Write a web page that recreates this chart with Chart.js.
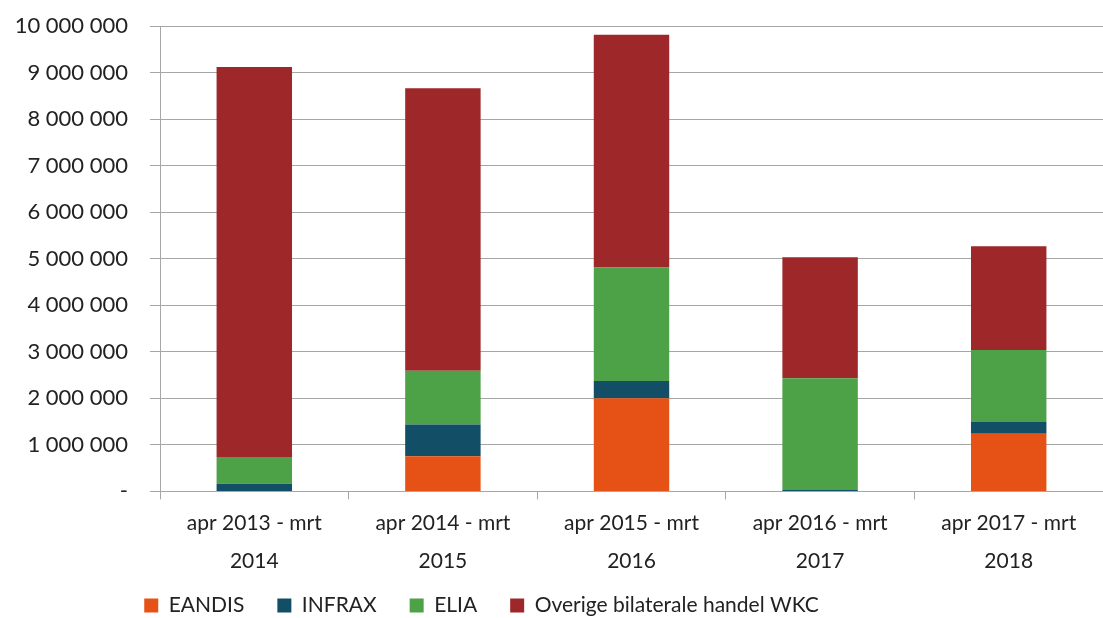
<!DOCTYPE html>
<html>
<head>
<meta charset="utf-8">
<script src="https://cdn.jsdelivr.net/npm/chart.js@4/dist/chart.umd.min.js"></script>
<style>
  html, body { margin: 0; padding: 0; background: #fff; }
  #wrap { width: 1103px; height: 618px; position: relative; }
</style>
</head>
<body>
<div id="wrap"><canvas id="chart"></canvas></div>
<script>
// periods (two-line labels)
const periods = [
    ['apr 2013 - mrt', '2014'],
    ['apr 2014 - mrt', '2015'],
    ['apr 2015 - mrt', '2016'],
    ['apr 2016 - mrt', '2017'],
    ['apr 2017 - mrt', '2018']
];

const eandis  = [0,       754000,  2000000, 0,       1240000];
const infrax  = [166000,  686000,  370000,  30000,   250000];
const elia    = [574000,  1150000, 2440000, 2400000, 1550000];
const overige = [8380000, 6070000, 5000000, 2600000, 2230000];

const seriesNames = ['EANDIS', 'INFRAX', 'ELIA', 'Overige bilaterale handel WKC'];
const seriesColors = ['#E65215', '#124F67', '#4DA146', '#9E2729'];

const yTicks = [0, 1000000, 2000000, 3000000, 4000000, 5000000, 6000000, 7000000, 8000000, 9000000, 10000000];

const FONT = 'Lato, "Open Sans", sans-serif';

function fmt(v) {
    if (v === 0) return '-';
    return String(v).replace(/\B(?=(\d{3})+(?!\d))/g, ' ');
}

const datasets = [eandis, infrax, elia, overige].map((data, i) => ({
    label: seriesNames[i],
    data,
    backgroundColor: seriesColors[i],
    borderWidth: 0,
    categoryPercentage: 1,
    barPercentage: 0.4
}));

// legend is left of centre and tighter to the axis labels in the original
const legendShift = {
    id: 'legendShift',
    afterLayout(chart) {
        const lg = chart.legend;
        lg.left -= 70;
        lg.right -= 70;
        lg.top -= 23;
        lg.bottom -= 23;
    }
};

new Chart(document.getElementById('chart'), {
    type: 'bar',
    data: { labels: periods, datasets },
    plugins: [legendShift],
    options: {
        responsive: true,
        maintainAspectRatio: false,
        animation: false,
        layout: { padding: { top: 26, right: 0, left: 0, bottom: -31 } },
        plugins: {
            tooltip: { enabled: false },
            legend: {
                position: 'bottom',
                labels: {
                    color: '#222',
                    font: { family: FONT, size: 21 },
                    boxWidth: 14,
                    boxHeight: 14,
                    padding: 33
                }
            }
        },
        scales: {
            x: {
                stacked: true,
                grid: { offset: true, drawOnChartArea: false, color: '#a6a6a6', tickLength: 8 },
                border: { color: '#a6a6a6' },
                ticks: {
                    color: '#222',
                    font: { family: FONT, size: 21, lineHeight: 1.8 },
                    maxRotation: 0,
                    padding: 5
                }
            },
            y: {
                stacked: true,
                min: 0,
                max: 10000000,
                afterBuildTicks: scale => { scale.ticks = yTicks.map(v => ({ value: v })); },
                afterFit: scale => {
                    scale.width = 160;
                    scale.paddingTop = 0;
                    scale.paddingBottom = 0;
                },
                grid: { color: '#a6a6a6', tickLength: 10 },
                border: { color: '#a6a6a6' },
                ticks: {
                    color: '#222',
                    font: { family: FONT, size: 22 },
                    padding: 22,
                    callback: v => fmt(v)
                }
            }
        }
    }
});
</script>
</body>
</html>
